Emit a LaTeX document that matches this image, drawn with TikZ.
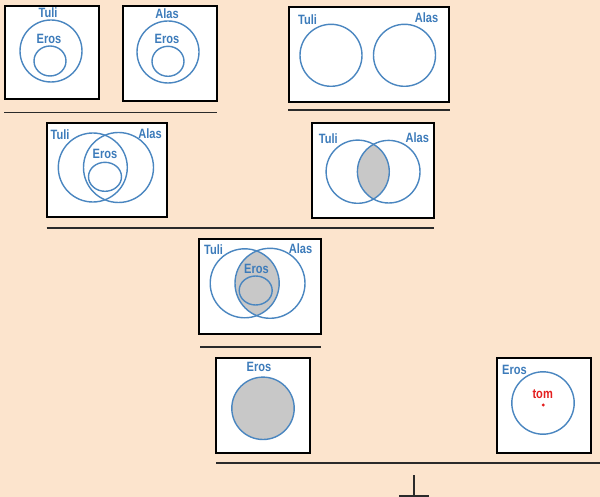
\documentclass[tikz,border=0pt]{standalone}
\usepackage{fontspec}
\setmainfont{Liberation Sans}
\newfontfamily\lblfont[FakeStretch=0.82]{Liberation Sans}
\definecolor{peach}{HTML}{FCE4CD}
\definecolor{setblue}{HTML}{4A86C0}
\definecolor{labelblue}{HTML}{3C7BBA}
\definecolor{lensgray}{HTML}{C8C8C8}
\definecolor{rulegray}{HTML}{2A2A2A}
\definecolor{tomred}{HTML}{E41E1E}
\tikzset{
  panel/.style={draw=black, line width=1.7pt, fill=white},
  setring/.style={draw=setblue, line width=1.4pt},
  lbl/.style={text=labelblue, font=\lblfont\fontsize{13.5}{15}\selectfont\bfseries, inner sep=0pt},
  redlbl/.style={text=tomred, font=\lblfont\fontsize{13.5}{15}\selectfont\bfseries, inner sep=0pt},
  bar/.style={draw=rulegray, line width=1.7pt},
}
\begin{document}
\begin{tikzpicture}[x=1pt, y=-1pt]
\fill[peach] (0,0) rectangle (600,497);
\useasboundingbox (0,0) rectangle (600,497);

% ---- first row: the two premises and their conclusion
\draw[panel] (5,6) rectangle (99,99);
\draw[setring] (51,51) circle [radius=31];
\draw[setring] (50,61) ellipse [x radius=16, y radius=15];
\node[lbl] (t1) at (48,13) {Tuli};
\node[lbl] (e1) at (49,39) {Eros};

\draw[panel] (123,6) rectangle (217,101);
\draw[setring] (168,52) circle [radius=31];
\draw[setring] (168,61.3) ellipse [x radius=16, y radius=15];
\node[lbl] (a2) at (167,14) {Alas};
\node[lbl] (e2) at (167,39) {Eros};

\coordinate (r1a) at (4,112.5);
\coordinate (r1b) at (217,112.5);
\draw[bar] (r1a) -- (r1b);

\draw[panel] (289,7) rectangle (449,102);
\draw[setring] (331,55.3) circle [radius=31];
\draw[setring] (404.5,55.3) circle [radius=31];
\node[lbl] (t3) at (307.5,19.3) {Tuli};
\node[lbl] (a3) at (426.5,17.5) {Alas};

\coordinate (r2a) at (288,110);
\coordinate (r2b) at (450,110);
\draw[bar] (r2a) -- (r2b);

% ---- second row
\draw[panel] (47,123) rectangle (167,217);
\draw[setring] (92.8,167.5) circle [radius=34.5];
\draw[setring] (118.5,167.5) circle [radius=35];
\draw[setring] (105,176.8) ellipse [x radius=16.5, y radius=14.5];
\node[lbl] (t4) at (60,135) {Tuli};
\node[lbl] (a4) at (150,133.5) {Alas};
\node[lbl] (e4) at (105,153.5) {Eros};

\draw[panel] (312,123) rectangle (434,218);
\begin{scope}
  \clip (357.7,171.7) circle [radius=31.6];
  \fill[lensgray] (388.7,171.7) circle [radius=31.3];
\end{scope}
\draw[setring] (357.7,171.7) circle [radius=31.6];
\draw[setring] (388.7,171.7) circle [radius=31.3];
\node[lbl] (t5) at (328.3,138.3) {Tuli};
\node[lbl] (a5) at (417.3,137.7) {Alas};

\coordinate (r3a) at (46.5,228.3);
\coordinate (r3b) at (434.3,228.3);
\draw[bar] (r3a) -- (r3b);

% ---- third row
\draw[panel] (199,239) rectangle (321,334);
\begin{scope}
  \clip (244.7,283.3) circle [radius=34.5];
  \fill[lensgray] (270,283.3) circle [radius=35];
\end{scope}
\fill[lensgray] (255.7,290.5) ellipse [x radius=16.5, y radius=14.5];
\draw[setring] (244.7,283.3) circle [radius=34.5];
\draw[setring] (270,283.3) circle [radius=35];
\draw[setring] (255.7,290.5) ellipse [x radius=16.5, y radius=14.5];
\node[lbl] (t6) at (213.5,250) {Tuli};
\node[lbl] (a6) at (300.5,249) {Alas};
\node[lbl] (e6) at (256.5,269) {Eros};

\coordinate (r4a) at (200,346.7);
\coordinate (r4b) at (321,346.7);
\draw[bar] (r4a) -- (r4b);

% ---- fourth row
\draw[panel] (216,358) rectangle (310,453);
\draw[setring, fill=lensgray] (263,408.3) circle [radius=31.2];
\node[lbl] (e7) at (259,366.7) {Eros};

\draw[panel] (497,358) rectangle (591,453);
\draw[setring] (543,403) circle [radius=31.2];
\node[lbl] (e8) at (514.5,370) {Eros};
\node[redlbl] (tom) at (542.7,394) {tom};
\fill[tomred] (543.3,405) circle [radius=1.6];

\coordinate (r5a) at (216,463.3);
\coordinate (r5b) at (600,463.3);
\draw[bar] (r5a) -- (r5b);

% ---- contradiction mark
\coordinate (ft) at (414,475);
\coordinate (fb) at (414,497);
\coordinate (fl) at (399.3,495.7);
\coordinate (fr) at (428.7,495.7);
\draw[bar] (ft) -- (fb);
\draw[bar] (fl) -- (fr);
\end{tikzpicture}
\end{document}
